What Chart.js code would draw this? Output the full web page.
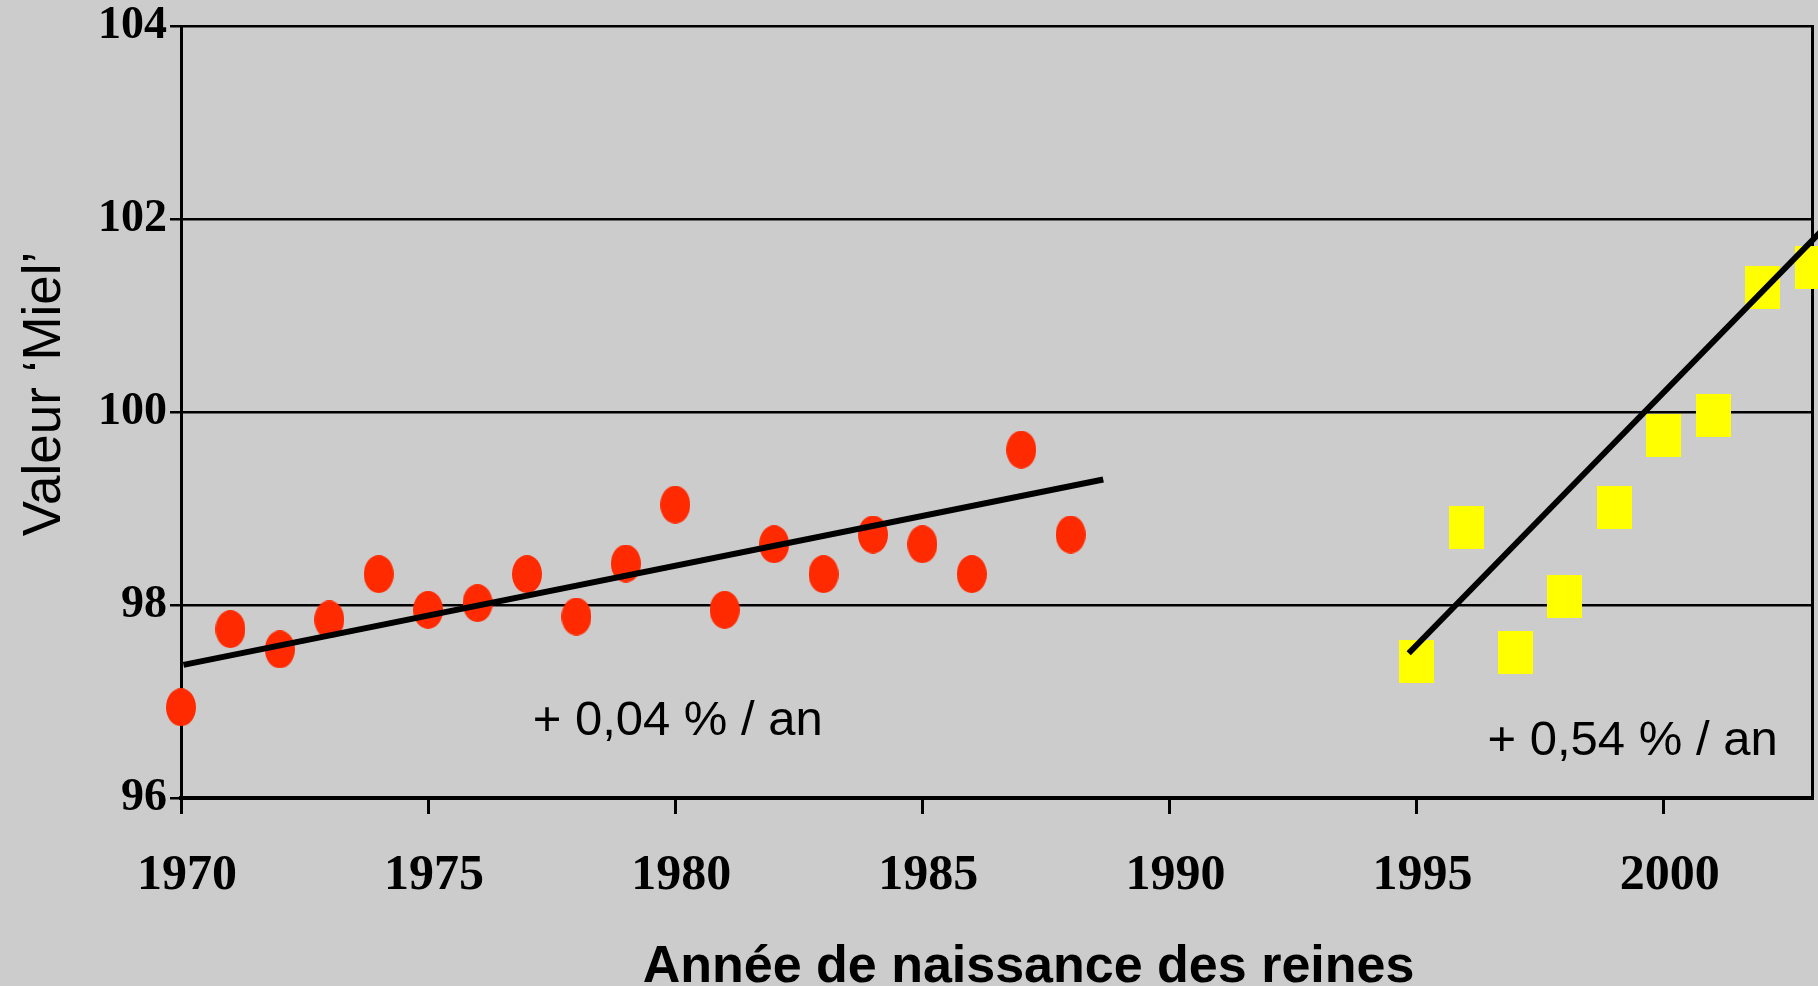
<!DOCTYPE html>
<html lang="fr">
<head>
<meta charset="utf-8">
<title>Valeur Miel</title>
<script src="https://cdn.jsdelivr.net/npm/chart.js@4.4.1/dist/chart.umd.min.js"></script>
<style>
  html, body { margin: 0; padding: 0; background: #cccccc; overflow: hidden; }
  canvas { display: block; }
</style>
</head>
<body>
<canvas id="graphe" width="1818" height="986"></canvas>
<script>
// années 1970-1988 (points rouges)
const anneesRouges = [1970, 1971, 1972, 1973, 1974, 1975, 1976, 1977, 1978, 1979,
                      1980, 1981, 1982, 1983, 1984, 1985, 1986, 1987, 1988];
const valeursRouges = [96.94, 97.75, 97.54, 97.85, 98.32, 97.95, 98.02, 98.32, 97.88, 98.43,
                       99.04, 97.95, 98.63, 98.32, 98.73, 98.63, 98.32, 99.61, 98.73];

// années 1995-2003 (carrés jaunes)
const anneesJaunes = [1995, 1996, 1997, 1998, 1999, 2000, 2001, 2002, 2003];
const valeursJaunes = [97.41, 98.80, 97.51, 98.09, 99.01, 99.76, 99.96, 101.29, 101.50];

// droites de tendance (extrémités)
const tendanceRougeX = [1970.05, 1988.66];
const tendanceRougeY = [97.38, 99.30];
const tendanceJauneX = [1994.84, 2003.2];
const tendanceJauneY = [97.50, 101.88];

const notes = ['+ 0,04 % / an', '+ 0,54 % / an'];
const notesX = [1980.05, 1999.37];
const notesY = [96.65, 96.45];

const titreX = 'Année de naissance des reines';
const titreY = 'Valeur ‘Miel’';

function pts(xs, ys) {
  return xs.map((x, i) => ({ x: x, y: ys[i] }));
}

// marqueurs : ellipse rouge et rectangle jaune
function marqueur(w, h, dessin) {
  const c = document.createElement('canvas');
  c.width = w;
  c.height = h;
  dessin(c.getContext('2d'), w, h);
  return c;
}
const ellipseRouge = marqueur(30, 38, (g, w, h) => {
  g.fillStyle = '#ff2a00';
  g.beginPath();
  g.ellipse(w / 2, h / 2, w / 2, h / 2, 0, 0, Math.PI * 2);
  g.fill();
});
const carreJaune = marqueur(35, 43, (g, w, h) => {
  g.fillStyle = '#ffff00';
  g.fillRect(0, 0, w, h);
});

const textes = {
  id: 'textes',
  afterDraw(chart) {
    const { ctx, chartArea, scales } = chart;
    ctx.save();
    ctx.fillStyle = '#000';
    ctx.textAlign = 'center';
    ctx.textBaseline = 'alphabetic';

    ctx.font = '49px "Liberation Sans", Arial, sans-serif';
    notes.forEach((t, i) => {
      ctx.fillText(t, scales.x.getPixelForValue(notesX[i]), scales.y.getPixelForValue(notesY[i]));
    });

    ctx.font = 'bold 52px "Liberation Sans", Arial, sans-serif';
    ctx.fillText(titreX, (chartArea.left + chartArea.right) / 2 + 32, chart.height - 4);

    ctx.font = '53px "Liberation Sans", Arial, sans-serif';
    ctx.translate(60, (chartArea.top + chartArea.bottom) / 2 - 18);
    ctx.rotate(-Math.PI / 2);
    ctx.fillText(titreY, 0, 0);
    ctx.restore();
  }
};

new Chart(document.getElementById('graphe'), {
  type: 'scatter',
  data: {
    datasets: [
      {
        data: pts(tendanceRougeX, tendanceRougeY),
        showLine: true,
        borderColor: '#000',
        borderWidth: 6,
        pointRadius: 0,
        clip: false,
        order: 0
      },
      {
        data: pts(tendanceJauneX, tendanceJauneY),
        showLine: true,
        borderColor: '#000',
        borderWidth: 6,
        pointRadius: 0,
        clip: false,
        order: 0
      },
      {
        data: pts(anneesRouges, valeursRouges),
        pointStyle: ellipseRouge,
        pointRadius: 19,
        clip: false,
        order: 1
      },
      {
        data: pts(anneesJaunes, valeursJaunes),
        pointStyle: carreJaune,
        pointRadius: 22,
        clip: false,
        order: 1
      }
    ]
  },
  options: {
    responsive: false,
    animation: false,
    layout: { autoPadding: false, padding: { top: 26, left: 0, right: 0, bottom: 0 } },
    plugins: {
      legend: { display: false },
      tooltip: { enabled: false }
    },
    scales: {
      x: {
        type: 'linear',
        min: 1970,
        max: 2003,
        afterFit: (s) => {
          s.height = 188;
          s.paddingLeft = 0;
          s.paddingRight = 0;
        },
        ticks: {
          stepSize: 5,
          includeBounds: false,
          labelOffset: 6,
          padding: 32,
          color: '#000',
          font: { family: '"Liberation Serif", "Times New Roman", serif', size: 50, weight: 'bold', lineHeight: 1.2 },
          callback: (v) => String(v)
        },
        grid: { drawOnChartArea: false, color: '#000', lineWidth: 3, tickLength: 16 },
        border: { display: true, color: '#000', width: 4 }
      },
      y: {
        min: 96,
        max: 104,
        afterFit: (s) => { s.width = 181; },
        ticks: {
          stepSize: 2,
          padding: 3,
          color: '#000',
          font: { family: '"Liberation Serif", "Times New Roman", serif', size: 46, weight: 'bold', lineHeight: 0.9 }
        },
        grid: { color: '#000', lineWidth: 2.5, tickLength: 11 },
        border: { display: true, color: '#000', width: 3 }
      },
      y2: {
        position: 'right',
        min: 96,
        max: 104,
        afterFit: (s) => { s.width = 6; },
        ticks: { display: false },
        grid: { drawOnChartArea: false, drawTicks: false },
        border: { display: true, color: '#000', width: 3 }
      }
    }
  },
  plugins: [textes]
});
</script>
</body>
</html>
